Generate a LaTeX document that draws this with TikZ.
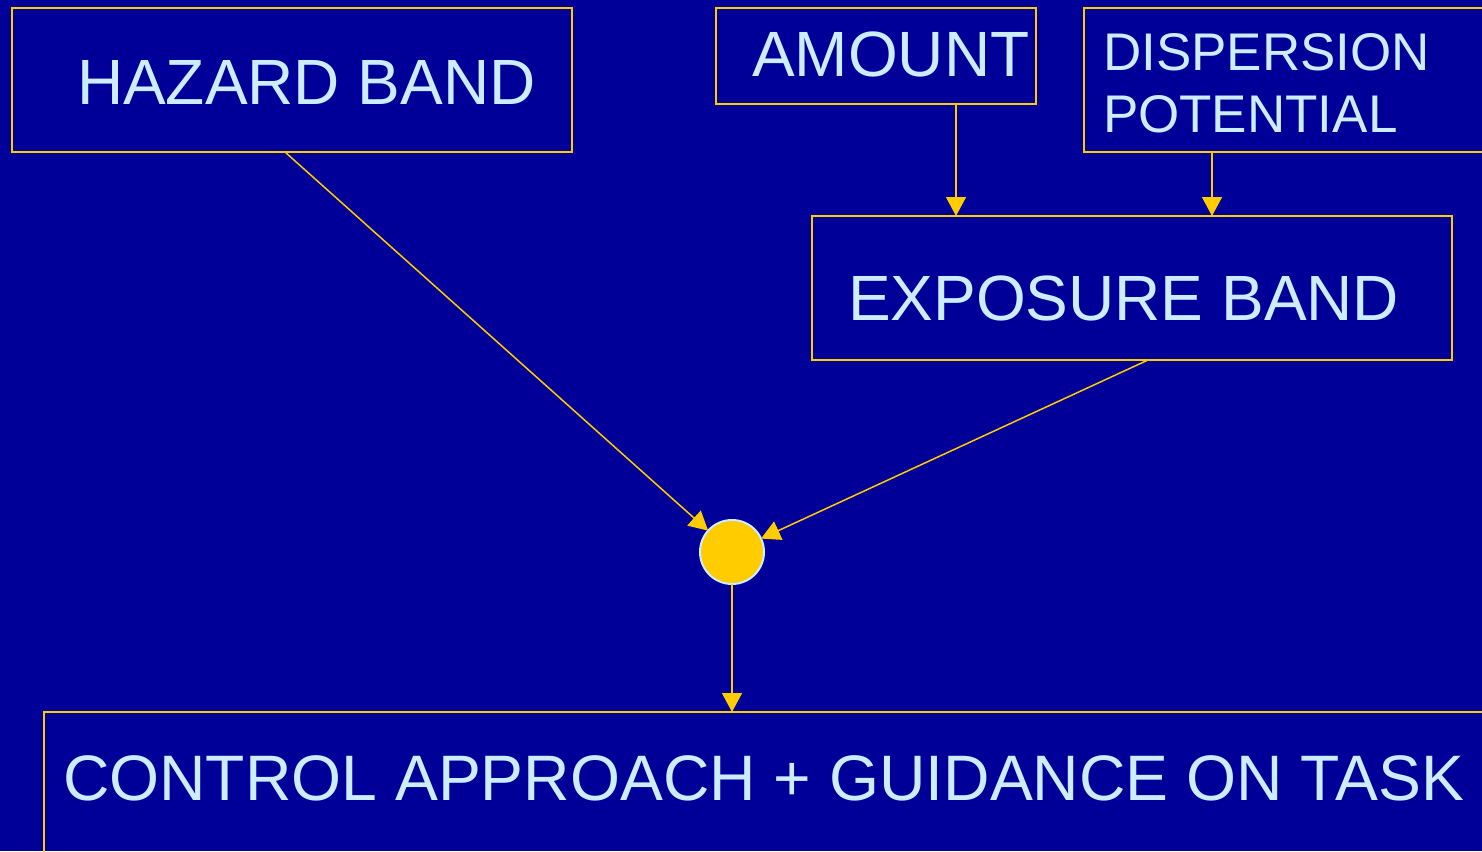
\documentclass[tikz,border=0pt]{standalone}
\usepackage{fontspec}
\setmainfont{Liberation Sans}
\usetikzlibrary{arrows.meta,calc}
\definecolor{bg}{HTML}{000099}
\definecolor{gold}{HTML}{FFCC00}
\definecolor{txt}{HTML}{CCECFF}
\tikzset{
  box/.style={draw=gold,line width=2pt,rectangle,inner sep=0pt,outer sep=0pt},
  lbl/.style={anchor=base west,inner sep=0pt,outer sep=0pt,text=txt,font=\fontsize{64}{64}\selectfont},
  smalllbl/.style={anchor=base west,inner sep=0pt,outer sep=0pt,text=txt,font=\fontsize{53}{62}\selectfont,align=left},
  conn/.style={draw=gold,line width=1.5pt,-{Triangle[length=19pt,width=20pt]}},
}
\begin{document}
\begin{tikzpicture}[x=1pt,y=-1pt]
\fill[bg] (0,0) rectangle (1482,851);
\useasboundingbox (0,0) rectangle (1482,851);
\clip (0,0) rectangle (1482,851);
% boxes
\node[box,minimum width=560pt,minimum height=144pt] (hazard) at (292,80) {};
\node[box,minimum width=320pt,minimum height=96pt] (amount) at (876,56) {};
\node[box,minimum width=420pt,minimum height=144pt] (disp) at (1294,80) {};
\node[box,minimum width=640pt,minimum height=144pt] (expo) at (1132,288) {};
\node[box,minimum width=1460pt,minimum height=170pt] (ctrl) at (774,797) {};
\node[circle,fill=gold,draw=txt,line width=2pt,minimum size=64pt,inner sep=0pt,outer sep=0pt] (dot) at (732,552) {};
% labels
\node[lbl] (thazard) at (77,104) {HAZARD BAND};
\node[lbl] (tamount) at (752,77) {AMOUNT};
\node[smalllbl] (tdisp) at (1103,132) {DISPERSION\\POTENTIAL};
\node[lbl] (texpo) at (848,320) {EXPOSURE BAND};
\node[lbl,font=\fontsize{64.3}{64}\selectfont] (tctrl) at (63,800) {CONTROL APPROACH + GUIDANCE ON TASK};
% connectors
\draw[conn] ([xshift=-7pt]hazard.south) -- (dot);
\draw[conn] ([xshift=16pt]expo.south) -- (dot);
\draw[conn] ([xshift=80pt]amount.south) -- ([xshift=80pt]amount.south |- expo.north);
\draw[conn] ([xshift=-82pt]disp.south) -- ([xshift=-82pt]disp.south |- expo.north);
\draw[conn] (dot) -- (dot |- ctrl.north);
\end{tikzpicture}
\end{document}
